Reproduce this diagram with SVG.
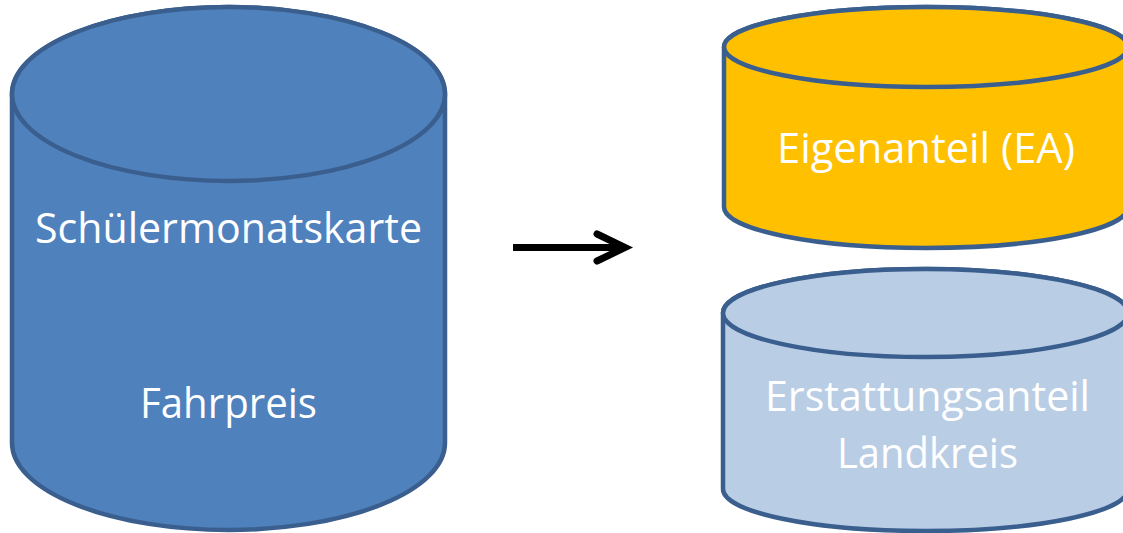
<svg xmlns="http://www.w3.org/2000/svg" width="1123" height="533" viewBox="0 0 1123 533">
  <style>
    .edge { stroke: #3a5f8e; stroke-width: 4.5; stroke-linejoin: round; }
    .blue { fill: #4f81bd; }
    .yellow { fill: #ffc000; }
    .light { fill: #b9cde5; }
    .label { font-family: "Open Sans", "Noto Sans", "DejaVu Sans", sans-serif; font-size: 42px; fill: #ffffff; text-anchor: middle; }
    .arrow { fill: none; stroke: #000000; stroke-width: 7; }
  </style>
  <rect width="1123" height="533" fill="#ffffff"/>

  <g id="node-schuelermonatskarte">
    <path class="edge blue" d="M 12 94 L 12 443 A 216.5 87 0 0 0 445 443 L 445 94 A 216.5 87 0 0 0 12 94 Z"/>
    <ellipse class="edge blue" cx="228.5" cy="94" rx="216.5" ry="87"/>
    <text class="label" x="228.5" y="243" textLength="387" lengthAdjust="spacingAndGlyphs">Schülermonatskarte</text>
    <text class="label" x="228.5" y="418" textLength="177" lengthAdjust="spacingAndGlyphs">Fahrpreis</text>
  </g>

  <g id="node-eigenanteil">
    <path class="edge yellow" d="M 724 47 L 724 207 A 202 41 0 0 0 1128 207 L 1128 47 A 202 40 0 0 0 724 47 Z"/>
    <ellipse class="edge yellow" cx="926" cy="47" rx="202" ry="40"/>
    <text class="label" x="926" y="163" textLength="298" lengthAdjust="spacingAndGlyphs">Eigenanteil (EA)</text>
  </g>

  <g id="node-erstattungsanteil">
    <path class="edge light" d="M 723 313 L 723 489 A 202.5 42 0 0 0 1128 489 L 1128 313 A 202.5 44 0 0 0 723 313 Z"/>
    <ellipse class="edge light" cx="925.5" cy="313" rx="202.5" ry="44"/>
    <text class="label" x="927.5" y="411" textLength="325" lengthAdjust="spacingAndGlyphs">Erstattungsanteil</text>
    <text class="label" x="927.5" y="468" textLength="181" lengthAdjust="spacingAndGlyphs">Landkreis</text>
  </g>

  <g id="connectors">
    <line class="arrow" x1="513" y1="247.5" x2="624" y2="247.5" stroke-linecap="butt"/>
    <polyline class="arrow" points="597,234 625,247.5 597,261" stroke-linecap="round" stroke-linejoin="miter"/>
  </g>
</svg>
